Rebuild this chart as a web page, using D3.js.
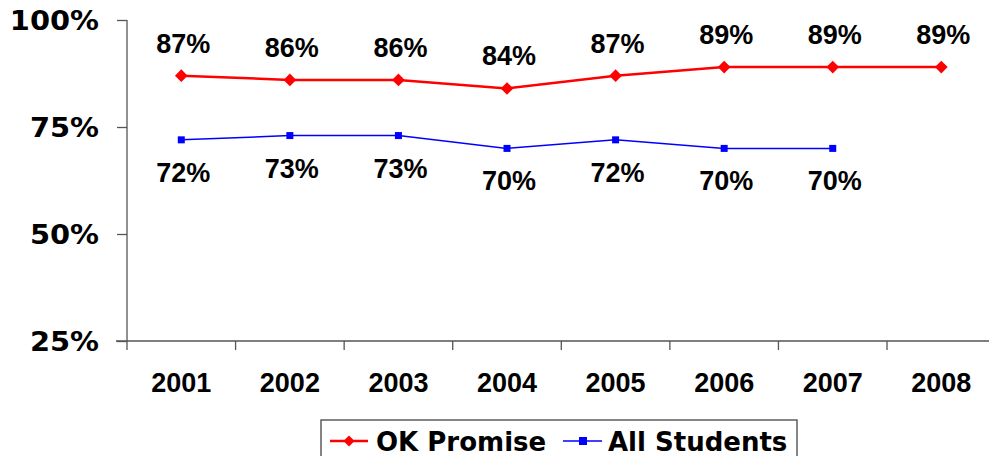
<!DOCTYPE html>
<html><head><meta charset="utf-8">
<script src="https://cdn.jsdelivr.net/npm/d3@7/dist/d3.min.js"></script>
<style>body{margin:0;background:#fff;overflow:hidden}</style>
</head><body>
<svg id="c" width="989" height="456"></svg>
<script>
const years = ["2001","2002","2003","2004","2005","2006","2007","2008"];
const okPromise = [87,86,86,84,87,89,89,89];
const allStudents = [72,73,73,70,72,70,70];
const yTicks = [25,50,75,100];
const seriesNames = ["OK Promise","All Students"];

const svg = d3.select("#c");
const mLeft = 127, mTop = 20, plotW = 868.6, mBottom = 341;
const x = d3.scaleBand().domain(years).range([mLeft, mLeft + plotW]);
const y = d3.scaleLinear().domain([25,100]).range([mBottom, mTop]);
const axisColor = "#555";
const labelFont = "'Liberation Sans', Arial, sans-serif";
const verdanaFont = "'DejaVu Sans', Verdana, sans-serif";

// Y axis
const ya = svg.append("g").attr("transform",`translate(${mLeft},0)`)
  .call(d3.axisLeft(y).tickValues(yTicks).tickFormat(d=>d+"%").tickSize(10).tickSizeOuter(0));
ya.select(".domain").remove();
ya.selectAll(".tick line").attr("stroke",axisColor).attr("stroke-width",1.3);
ya.selectAll(".tick text").attr("x",-28).attr("dy","0.36em")
  .attr("font-family",verdanaFont).attr("font-weight","bold")
  .attr("font-size",26).attr("fill","#000")
  .each(function(){
    const w = this.getComputedTextLength();
    d3.select(this).attr("textLength", w*1.11).attr("lengthAdjust","spacingAndGlyphs");
  });
svg.append("line").attr("x1",mLeft).attr("x2",mLeft).attr("y1",mTop).attr("y2",mBottom+9)
  .attr("stroke",axisColor).attr("stroke-width",1.3);

// X axis
const xa = svg.append("g").attr("transform",`translate(0,${mBottom})`)
  .call(d3.axisBottom(x).tickSize(0).tickSizeOuter(0));
xa.select(".domain").remove();
xa.selectAll(".tick line").remove();
xa.selectAll(".tick text").attr("y",51).attr("dy",0)
  .attr("font-family",labelFont).attr("font-weight","bold")
  .attr("font-size",27).attr("fill","#000");
svg.append("line").attr("x1",116).attr("x2",989).attr("y1",mBottom).attr("y2",mBottom)
  .attr("stroke",axisColor).attr("stroke-width",1.3);
svg.append("g").selectAll("line").data(years.slice(1)).join("line")
  .attr("x1",d=>x(d)).attr("x2",d=>x(d)).attr("y1",mBottom).attr("y2",mBottom+9)
  .attr("stroke",axisColor).attr("stroke-width",1.3);

const cx = d => x(d) + x.bandwidth()/2;
const line = d3.line().x((d,i)=>cx(years[i])).y(d=>y(d));

// Blue series
svg.append("path").datum(allStudents).attr("d",line).attr("fill","none")
  .attr("stroke","#0000ff").attr("stroke-width",1.5);
svg.append("g").selectAll("rect").data(allStudents).join("rect")
  .attr("x",(d,i)=>cx(years[i])-3.5).attr("y",d=>y(d)-3.5).attr("width",7).attr("height",7)
  .attr("fill","#0000ff");
svg.append("g").selectAll("text").data(allStudents).join("text")
  .attr("x",(d,i)=>cx(years[i])+2).attr("y",d=>y(d)+42).attr("text-anchor","middle")
  .attr("font-family",labelFont).attr("font-weight","bold")
  .attr("font-size",27).text(d=>d+"%");

// Red series
svg.append("path").datum(okPromise).attr("d",line).attr("fill","none")
  .attr("stroke","#ff0000").attr("stroke-width",2.5);
svg.append("g").selectAll("path").data(okPromise).join("path")
  .attr("d",d3.symbol().type(d3.symbolSquare).size(80)).attr("fill","#ff0000")
  .attr("transform",(d,i)=>`translate(${cx(years[i])},${y(d)}) rotate(45)`);
svg.append("g").selectAll("text").data(okPromise).join("text")
  .attr("x",(d,i)=>cx(years[i])+2).attr("y",d=>y(d)-23).attr("text-anchor","middle")
  .attr("font-family",labelFont).attr("font-weight","bold")
  .attr("font-size",27).text(d=>d+"%");

// Legend
const lg = svg.append("g");
lg.append("rect").attr("x",321).attr("y",420).attr("width",476).attr("height",50)
  .attr("fill","#fff").attr("stroke","#444").attr("stroke-width",1.3);
lg.append("line").attr("x1",330).attr("x2",368).attr("y1",441).attr("y2",441)
  .attr("stroke","#ff0000").attr("stroke-width",2.5);
lg.append("path").attr("d",d3.symbol().type(d3.symbolSquare).size(60))
  .attr("transform","translate(349,441) rotate(45)").attr("fill","#ff0000");
lg.append("line").attr("x1",563).attr("x2",602).attr("y1",441).attr("y2",441)
  .attr("stroke","#0000ff").attr("stroke-width",1.5);
lg.append("rect").attr("x",579).attr("y",437).attr("width",8).attr("height",8).attr("fill","#0000ff");
lg.selectAll("text").data(seriesNames).join("text")
  .attr("x",(d,i)=>i===0?376:608).attr("y",451)
  .attr("font-family",verdanaFont).attr("font-weight","bold")
  .attr("font-size",26).text(d=>d);
</script>
</body></html>
